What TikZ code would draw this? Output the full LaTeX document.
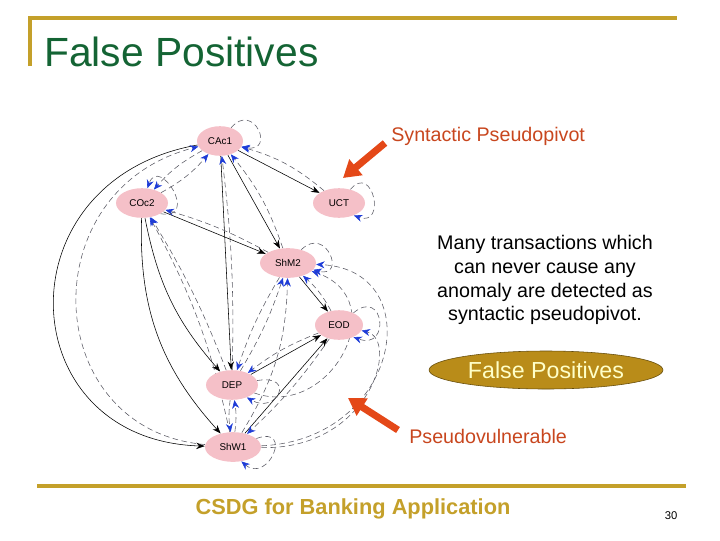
\documentclass[tikz,border=0pt]{standalone}
\usepackage{fontspec}
\setmainfont{Liberation Sans}
\usetikzlibrary{arrows.meta,shapes.geometric,backgrounds}

\definecolor{slidegold}{RGB}{196,160,42}
\definecolor{titlegreen}{RGB}{20,100,52}
\definecolor{nodepink}{RGB}{245,192,200}
\definecolor{arcblue}{RGB}{30,60,215}
\definecolor{arcgray}{RGB}{90,90,100}
\definecolor{notered}{RGB}{200,70,30}
\definecolor{pointred}{RGB}{228,72,24}
\definecolor{ellgold}{RGB}{185,140,25}
\definecolor{ellborder}{RGB}{100,75,10}
\definecolor{ellyellow}{RGB}{255,255,200}

\begin{document}
\begin{tikzpicture}[x=0.025cm,y=0.025cm,
    state/.style={ellipse, fill=nodepink, minimum width=1.3cm, minimum height=0.74cm,
      inner sep=0pt, font=\fontsize{7}{8}\selectfont},
    solidarc/.style={black, line width=0.4pt, -{Stealth[length=6pt,width=4.5pt]}},
    dasharc/.style={arcgray, line width=0.4pt, dash pattern=on 4pt off 2.5pt,
      -{Stealth[length=6pt,width=5pt,color=arcblue]}},
    redtext/.style={text=notered, font=\fontsize{14}{17}\selectfont, inner sep=0pt},
    pointer/.style={pointred, line width=5pt, -{Triangle[length=12pt,width=14pt]}}]
    \useasboundingbox (0,0) rectangle (720,-540);

    % slide frame
    \draw[slidegold, line width=2.2pt] (30,-66) -- (30,-18) -- (677,-18);
    \draw[slidegold, line width=2.2pt] (37,-486) -- (686,-486);
    \node[anchor=base west, inner sep=0pt, text=titlegreen,
      font=\fontsize{29}{34}\selectfont] (title) at (44,-66) {False Positives};
    \node[text=slidegold, font=\bfseries\fontsize{15.5}{18}\selectfont] (footer)
      at (353,-509) {CSDG for Banking Application};
    \node[font=\fontsize{8}{9}\selectfont] (pagenum) at (671,-516) {30};

    % graph nodes
    \node[state, minimum width=1.15cm] (cac1) at (220,-141) {CAc1};
    \node[state] (coc2) at (142,-203) {COc2};
    \node[state] (uct) at (339,-203) {UCT};
    \node[state, minimum width=1.4cm] (shm2) at (288,-263) {ShM2};
    \node[state, minimum width=1.2cm] (eod) at (339,-325) {EOD};
    \node[state] (dep) at (232,-385) {DEP};
    \node[state, minimum width=1.4cm] (shw1) at (233,-447) {ShW1};

    \begin{scope}[on background layer]
    % solid arcs and their dashed partners
    \draw[solidarc] (cac1) -- (uct);
    \draw[dasharc] (uct) to[bend right=12] (cac1);
    \draw[solidarc] (cac1) -- (shm2);
    \draw[dasharc] (shm2) to[bend right=10] (cac1);
    \draw[solidarc] (cac1) -- (dep);
    \draw[dasharc] (dep) to[bend right=4] (cac1);
    \draw[solidarc] (coc2) -- (shm2);
    \draw[dasharc] (shm2) to[bend right=6] (coc2);
    \draw[solidarc] (coc2) to[bend right=15] (dep);
    \draw[dasharc] (dep) to[bend right=5] (coc2);
    \draw[solidarc] (coc2) to[bend right=22] (shw1);
    \draw[dasharc] (shw1) to[bend right=8] (coc2);
    \draw[solidarc] (cac1) .. controls (0,-180) and (10,-440) .. (shw1);
    \draw[dasharc] (shw1) .. controls (40,-430) and (30,-190) .. (cac1);
    \draw[solidarc] (shm2) -- (eod);
    \draw[dasharc] (eod) to[bend right=10] (shm2);
    \draw[solidarc] (dep) -- (eod);
    \draw[dasharc] (eod) to[bend right=8] (dep);
    \draw[solidarc] (shw1) -- (eod);
    \draw[dasharc] (eod) to[bend left=6] (shw1);

    % dashed arcs
    \draw[dasharc] (cac1) to[bend right=10] (coc2);
    \draw[dasharc] (coc2) to[bend right=10] (cac1);
    \draw[dasharc] (dep) to[bend right=8] (shw1);
    \draw[dasharc] (shw1) to[bend right=8] (dep);
    \draw[dasharc] (dep) to[bend right=6] (shm2);
    \draw[dasharc] (shm2) to[bend right=6] (dep);
    \draw[dasharc] (shw1) to[bend right=15] (shm2);
    \draw[dasharc] (shw1) .. controls (400,-440) and (430,-270) .. (shm2);
    \draw[dasharc] (shw1) .. controls (370,-450) and (400,-340) .. (eod);
    \draw[dasharc] (dep) .. controls (330,-420) and (395,-300) .. (shm2);

    % self loops
    \draw[dasharc] (cac1.50) .. controls +(50:35) and +(-10:35) .. (cac1.-15);
    \draw[dasharc] (coc2.-30) .. controls +(-10:40) and +(70:35) .. (coc2.70);
    \draw[dasharc] (uct.50) .. controls +(50:35) and +(-20:35) .. (uct.-40);
    \draw[dasharc] (shm2.45) .. controls +(45:35) and +(-15:35) .. (shm2.-15);
    \draw[dasharc] (eod.40) .. controls +(40:40) and +(-20:40) .. (eod.-40);
    \draw[dasharc] (dep.10) .. controls +(10:40) and +(-30:35) .. (dep.-40);
    \draw[dasharc] (shw1.20) .. controls +(20:40) and +(-40:35) .. (shw1.-60);
    \end{scope}

    % annotations
    \node[redtext, anchor=west] (pivotlabel) at (391,-136) {Syntactic Pseudopivot};
    \coordinate (pivottail) at (385,-143);
    \coordinate (pivottip) at (343,-178);
    \draw[pointer] (pivottail) -- (pivottip);

    \node[align=center, font=\fontsize{14}{17}\selectfont] (note) at (545,-280)
      {Many transactions which\\can never cause any\\anomaly are detected as\\syntactic pseudopivot.};

    \node[ellipse, fill=ellgold, draw=ellborder, minimum width=5.15cm, minimum height=0.95cm,
      text=ellyellow, font=\fontsize{16.5}{20}\selectfont] (fpos) at (546,-370) {False Positives};

    \node[redtext, anchor=west] (vulnlabel) at (409,-436) {Pseudovulnerable};
    \coordinate (vulntail) at (398,-430);
    \coordinate (vulntip) at (348,-398);
    \draw[pointer] (vulntail) -- (vulntip);
\end{tikzpicture}
\end{document}
